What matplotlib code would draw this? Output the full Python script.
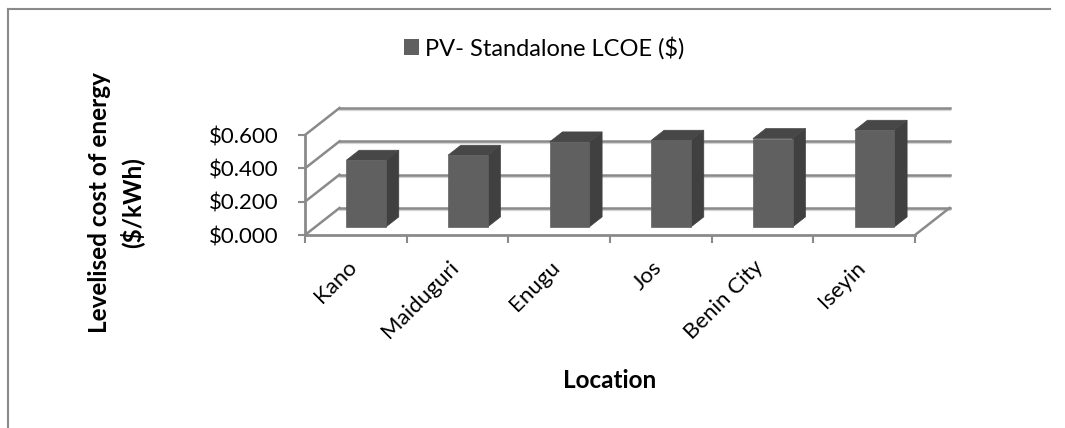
import matplotlib
matplotlib.use("Agg")
import matplotlib.pyplot as plt
from matplotlib.patches import Patch, Polygon
from matplotlib.lines import Line2D
from matplotlib.transforms import ScaledTranslation

# datos
locations = ["Kano", "Maiduguri", "Enugu", "Jos", "Benin City", "Iseyin"]
lcoe = [0.40, 0.43, 0.51, 0.52, 0.53, 0.58]
y_ticks = [0.0, 0.2, 0.4, 0.6]
serie = r"PV- Standalone LCOE (\$)"

plt.rcParams["font.family"] = ["Lato", "DejaVu Sans"]

W, H = 1065, 428
fig = plt.figure(figsize=(W / 100, H / 100), dpi=100)
fig.patch.set_facecolor("white")

# eje del plano frontal (x = categorias, y = valor)
ax = fig.add_axes([305 / W, (H - 235) / H, 610 / W, 100 / H])
ax.set_xlim(0, len(locations))
ax.set_ylim(0, y_ticks[-1])
ax.patch.set_visible(False)

# desplazamiento de profundidad (perspectiva oblicua) en unidades de datos
DX = 34.5 / (610 / len(locations))
DY = 27 / (100 / y_ticks[-1])


def proj(x, v, z):
    return (x + z * DX, v + z * DY)


gris = "#8a8a8a"
sombra = "#d4d4d4"
px_v = y_ticks[-1] / 100  # un pixel en unidades de valor

# pared del fondo y pared izquierda
for t in y_ticks:
    a, b = proj(0, t, 1), proj(len(locations), t, 1)
    ax.add_line(Line2D([a[0], b[0]], [a[1] - 2 * px_v, b[1] - 2 * px_v],
                       color=sombra, lw=1.6, clip_on=False, zorder=1))
    ax.add_line(Line2D([a[0], b[0]], [a[1], b[1]], color=gris, lw=1.8,
                       clip_on=False, zorder=2))
    c = proj(0, t, 0)
    ax.add_line(Line2D([c[0], a[0]], [c[1], a[1]], color=gris, lw=1.8,
                       clip_on=False, zorder=2))
# borde derecho del piso
a, b = proj(len(locations), 0, 0), proj(len(locations), 0, 1)
ax.add_line(Line2D([a[0], b[0]], [a[1], b[1]], color=gris, lw=1.8,
                   clip_on=False, zorder=2))

# barras 3d
hw = 0.195
z0, z1 = 0.30, 0.67
for i, v in enumerate(lcoe):
    x0, x1 = i + 0.5 - hw, i + 0.5 + hw
    frente = [proj(x0, 0, z0), proj(x1, 0, z0), proj(x1, v, z0), proj(x0, v, z0)]
    lado = [proj(x1, 0, z0), proj(x1, 0, z1), proj(x1, v, z1), proj(x1, v, z0)]
    techo = [proj(x0, v, z0), proj(x1, v, z0), proj(x1, v, z1), proj(x0, v, z1)]
    for pts, col in [(lado, "#404040"), (techo, "#474747"), (frente, "#606060")]:
        ax.add_patch(Polygon(pts, closed=True, facecolor=col, edgecolor=col,
                             lw=0.5, clip_on=False, zorder=5))

# ejes frontales
for s in ["top", "right"]:
    ax.spines[s].set_visible(False)
for s in ["left", "bottom"]:
    ax.spines[s].set_color(gris)
    ax.spines[s].set_linewidth(2)
    ax.spines[s].set_zorder(3)

ax.set_yticks(y_ticks)
ax.set_yticklabels([r"\$%.3f" % t for t in y_ticks])
ax.tick_params(axis="y", direction="out", length=5, width=1.5, color=gris,
               pad=14, labelsize=16)

ax.set_xticks(range(len(locations) + 1))
ax.set_xticklabels([])
ax.tick_params(axis="x", which="major", direction="out", length=6, width=1.5,
               color=gris)
ax.set_xticks([i + 0.5 for i in range(len(locations))], minor=True)
ax.set_xticklabels(locations, minor=True, rotation=45, ha="right")
ax.tick_params(axis="x", which="minor", length=0, pad=16, labelsize=16)
desplazo = ScaledTranslation(5 / 100, 0, fig.dpi_scale_trans)
for lab in ax.get_xticklabels(minor=True):
    lab.set_transform(lab.get_transform() + desplazo)

# titulos de ejes
fig.text(610 / W, (H - 380) / H, "Location", ha="center", va="center",
         fontsize=17.5, fontweight="bold")
fig.text(116 / W, (H - 203) / H, "Levelised cost of energy\n(\\$/kWh)",
         ha="center", va="center", rotation=90, fontsize=17.5,
         fontweight="bold", multialignment="center", linespacing=1.4)

# leyenda
leyenda = [Patch(facecolor="#606060", label=serie)]
fig.legend(handles=leyenda, loc="center left",
           bbox_to_anchor=(404 / W, (H - 48) / H), frameon=False,
           fontsize=17, handlelength=0.65, handleheight=0.65,
           handletextpad=0.25, borderpad=0, borderaxespad=0)

# marco exterior (solo se ven el borde superior e izquierdo)
fig.add_artist(Line2D([8 / W, 8 / W], [0, (H - 9) / H], color=gris, lw=1.5))
fig.add_artist(Line2D([8 / W, 1050 / W], [(H - 9) / H, (H - 9) / H],
                      color=gris, lw=1.5))

fig.savefig("out.png", dpi=100)
